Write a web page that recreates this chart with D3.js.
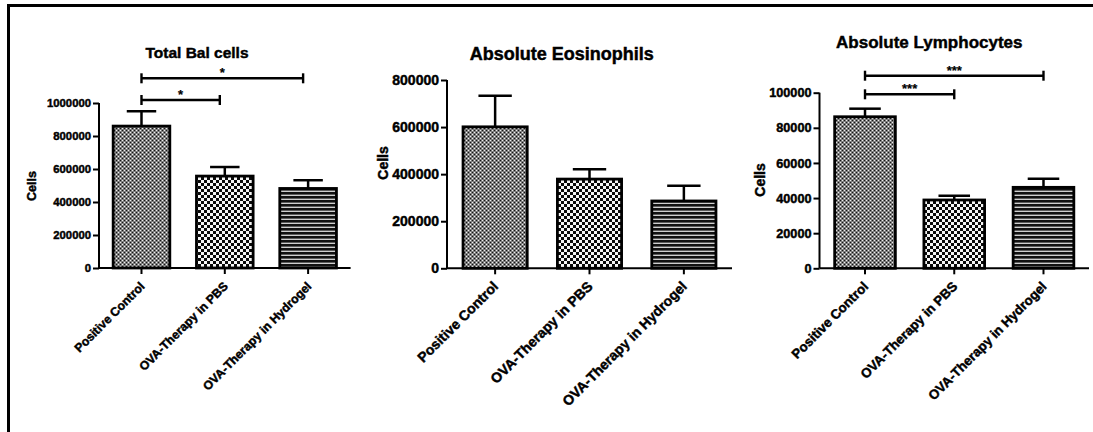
<!DOCTYPE html>
<html>
<head>
<meta charset="utf-8">
<script src="https://cdn.jsdelivr.net/npm/d3@7"></script>
<style>
  body { margin: 0; background: #fff; }
  svg { display: block; }
  text { font-family: "Liberation Sans", Arial, sans-serif; font-weight: bold; fill: #000; stroke: #000; stroke-width: 0.45px; }
</style>
</head>
<body>
<svg id="chart" width="1093" height="432"></svg>
<script>
// Treatment groups shared by all three graphs
const groups = ["Positive Control", "OVA-Therapy in PBS", "OVA-Therapy in Hydrogel"];

// Total BAL cells: mean and SEM
const totalBalMean = [860000, 557000, 482000];
const totalBalErr  = [90000, 55000, 50000];
const totalBalTicks = [0, 200000, 400000, 600000, 800000, 1000000];
const totalBalSig = [
  { from: 0, to: 1, label: "*" },
  { from: 0, to: 2, label: "*" }
];

// Absolute eosinophils: mean and SEM
const eosMean = [601000, 379000, 286000];
const eosErr  = [132000, 42000, 65000];
const eosTicks = [0, 200000, 400000, 600000, 800000];
const eosSig = [];

// Absolute lymphocytes: mean and SEM
const lymphMean = [86300, 38900, 46100];
const lymphErr  = [4600, 2400, 4900];
const lymphTicks = [0, 20000, 40000, 60000, 80000, 100000];
const lymphSig = [
  { from: 0, to: 1, label: "***" },
  { from: 0, to: 2, label: "***" }
];

const svg = d3.select("#chart");
const defs = svg.append("defs");

// Fill patterns, one per group
const pDense = defs.append("pattern").attr("id", "pat0")
  .attr("patternUnits", "userSpaceOnUse").attr("width", 4).attr("height", 4);
pDense.append("rect").attr("width", 4).attr("height", 4).attr("fill", "#7e7e7e");
pDense.append("rect").attr("x", 0).attr("y", 0).attr("width", 1).attr("height", 1).attr("fill", "#141414");
pDense.append("rect").attr("x", 2).attr("y", 2).attr("width", 1).attr("height", 1).attr("fill", "#141414");
pDense.append("rect").attr("x", 2).attr("y", 0).attr("width", 1).attr("height", 1).attr("fill", "#f0f0f0");
pDense.append("rect").attr("x", 0).attr("y", 2).attr("width", 1).attr("height", 1).attr("fill", "#f0f0f0");

const pCheck = defs.append("pattern").attr("id", "pat1")
  .attr("patternUnits", "userSpaceOnUse").attr("width", 6).attr("height", 6);
pCheck.append("rect").attr("width", 6).attr("height", 6).attr("fill", "#f6f6f6");
pCheck.append("rect").attr("x", 0).attr("y", 0).attr("width", 3).attr("height", 3).attr("fill", "#0a0a0a");
pCheck.append("rect").attr("x", 3).attr("y", 3).attr("width", 3).attr("height", 3).attr("fill", "#0a0a0a");

const pStripe = defs.append("pattern").attr("id", "pat2")
  .attr("patternUnits", "userSpaceOnUse").attr("width", 4).attr("height", 4);
pStripe.append("rect").attr("width", 4).attr("height", 4).attr("fill", "#cfcfcf");
pStripe.append("rect").attr("y", 0).attr("width", 4).attr("height", 2.6).attr("fill", "#111");

// Frame lines along the top and left edges
svg.append("line").attr("x1", 7).attr("x2", 1093).attr("y1", 5.5).attr("y2", 5.5)
  .attr("stroke", "#000").attr("stroke-width", 3);
svg.append("line").attr("x1", 8.5).attr("x2", 8.5).attr("y1", 4).attr("y2", 432)
  .attr("stroke", "#000").attr("stroke-width", 3);

const panels = [
  { title: "Total Bal cells", mean: totalBalMean, err: totalBalErr, ticks: totalBalTicks, sig: totalBalSig,
    x0: 99, x1: 350.6, yBase: 268, yTop: 103,
    titleX: 197, titleY: 57.5, titleSize: 15.5, tickFont: 11.3, labelFont: 12.5, labelX: 32, labelY: 186,
    catFont: 12.2, sigY: [100, 78.3], sigInset: 5 },
  { title: "Absolute Eosinophils", mean: eosMean, err: eosErr, ticks: eosTicks, sig: eosSig,
    x0: 447, x1: 732, yBase: 268.3, yTop: 80,
    titleX: 561.7, titleY: 59.5, titleSize: 18, tickFont: 14, labelFont: 14, labelX: 383, labelY: 163,
    catFont: 14, sigY: [], sigInset: 0 },
  { title: "Absolute Lymphocytes", mean: lymphMean, err: lymphErr, ticks: lymphTicks, sig: lymphSig,
    x0: 819.5, x1: 1089, yBase: 268.3, yTop: 92.7,
    titleX: 929.3, titleY: 47.5, titleSize: 17, tickFont: 12.7, labelFont: 14, labelX: 760, labelY: 180,
    catFont: 13.3, sigY: [94.3, 75.7], sigInset: 0 }
];

panels.forEach(p => {
  const g = svg.append("g");

  const x = d3.scaleBand().domain(groups).range([p.x0, p.x1])
    .paddingInner(0.32).paddingOuter(0.17);
  const y = d3.scaleLinear().domain([0, d3.max(p.ticks)]).range([p.yBase, p.yTop]);

  // Bars
  g.selectAll("rect.bar").data(groups).join("rect")
    .attr("class", "bar")
    .attr("x", d => x(d))
    .attr("width", x.bandwidth())
    .attr("y", (d, i) => y(p.mean[i]))
    .attr("height", (d, i) => y(0) - y(p.mean[i]))
    .attr("fill", (d, i) => `url(#pat${i})`)
    .attr("stroke", "#000").attr("stroke-width", 2.8);

  // Error bars (upper only)
  const cap = x.bandwidth() * 0.26;
  groups.forEach((d, i) => {
    const cx = x(d) + x.bandwidth() / 2;
    const top = y(p.mean[i] + p.err[i]);
    g.append("line").attr("x1", cx).attr("x2", cx).attr("y1", y(p.mean[i])).attr("y2", top)
      .attr("stroke", "#000").attr("stroke-width", 2.5);
    g.append("line").attr("x1", cx - cap).attr("x2", cx + cap).attr("y1", top).attr("y2", top)
      .attr("stroke", "#000").attr("stroke-width", 2.5);
  });

  // Y axis
  const yAxis = g.append("g").attr("transform", `translate(${p.x0},0)`)
    .call(d3.axisLeft(y).tickValues(p.ticks).tickFormat(d3.format("d")).tickSize(6).tickPadding(2));
  yAxis.select(".domain").attr("stroke-width", 2).attr("d", `M0,${p.yTop}V${p.yBase}`);
  yAxis.selectAll(".tick line").attr("stroke-width", 2);
  yAxis.selectAll(".tick text").attr("font-size", p.tickFont)
    .style("font-family", "'Liberation Sans', Arial, sans-serif").attr("font-weight", "bold");

  // X axis
  const xAxis = g.append("g").attr("transform", `translate(0,${p.yBase})`)
    .call(d3.axisBottom(x).tickSize(6).tickFormat(""));
  xAxis.select(".domain").attr("stroke-width", 2).attr("d", `M${p.x0},0H${p.x1}`);
  xAxis.selectAll(".tick line").attr("stroke-width", 2);

  // Rotated group labels
  g.selectAll("text.cat").data(groups).join("text")
    .attr("class", "cat")
    .attr("text-anchor", "end")
    .attr("font-size", p.catFont)
    .attr("transform", d => `translate(${x(d) + x.bandwidth() / 2 + 4},${p.yBase + 19}) rotate(-45)`)
    .text(d => d);

  // Title
  g.append("text").attr("x", p.titleX).attr("y", p.titleY).attr("text-anchor", "middle")
    .attr("font-size", p.titleSize).text(p.title);

  // Y axis label
  g.append("text").attr("text-anchor", "middle").attr("font-size", p.labelFont)
    .attr("transform", `translate(${p.labelX},${p.labelY}) rotate(-90)`)
    .attr("dy", "0.35em").text("Cells");

  // Significance brackets
  p.sig.forEach((s, k) => {
    const xa = x(groups[s.from]) + x.bandwidth() / 2;
    const xb = x(groups[s.to]) + x.bandwidth() / 2 - p.sigInset;
    const by = p.sigY[k];
    g.append("line").attr("x1", xa).attr("x2", xb).attr("y1", by).attr("y2", by)
      .attr("stroke", "#000").attr("stroke-width", 2.4);
    [xa, xb].forEach(xx => g.append("line").attr("x1", xx).attr("x2", xx)
      .attr("y1", by - 5).attr("y2", by + 5).attr("stroke", "#000").attr("stroke-width", 2.4));
    g.append("text").attr("x", (xa + xb) / 2).attr("y", by - 1).attr("text-anchor", "middle")
      .attr("font-size", 13).style("stroke-width", "0.2px").text(s.label);
  });
});
</script>
</body>
</html>
